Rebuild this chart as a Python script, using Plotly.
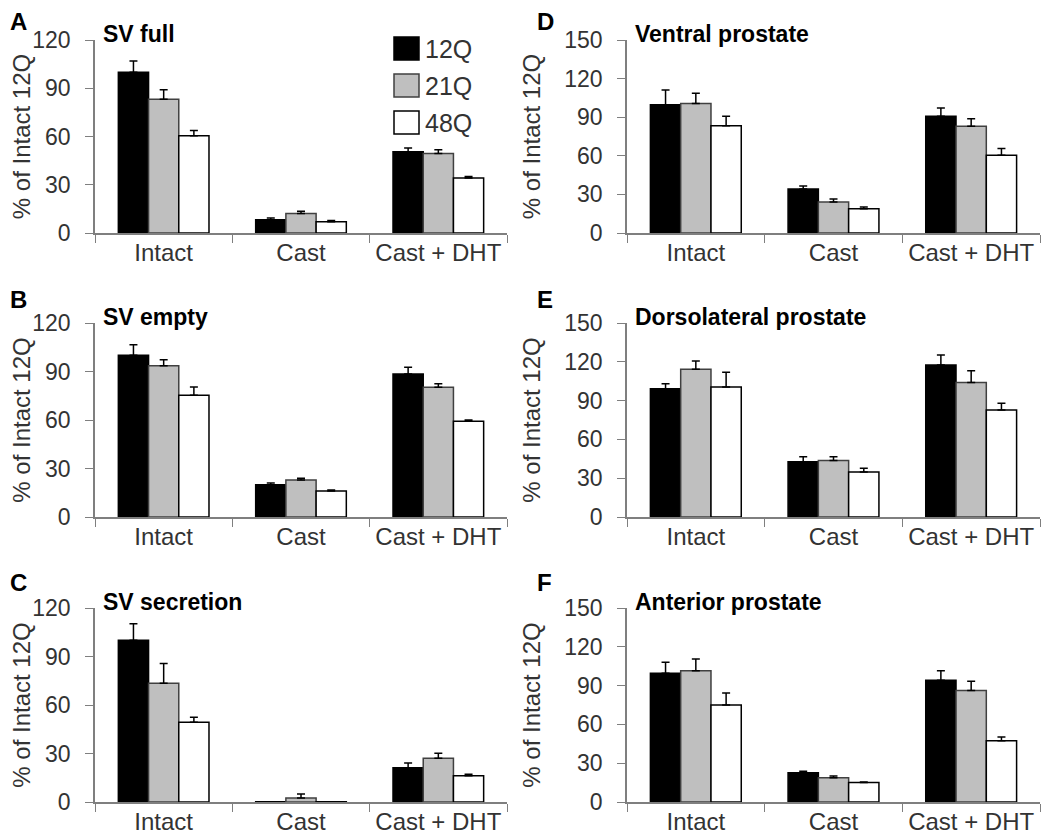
import plotly.graph_objects as go
from plotly.subplots import make_subplots

categories = ["Intact", "Cast", "Cast + DHT"]
groups = ["12Q", "21Q", "48Q"]

# mean values, one list per group (12Q, 21Q, 48Q)
sv_full = [[100, 8.3, 50.5], [83.2, 12.2, 49.5], [60.4, 7.0, 34.2]]
sv_full_err = [[7, 1.0, 2.3], [5.8, 1.3, 2.3], [3.4, 0.7, 1.0]]

sv_empty = [[100, 20, 88.5], [93.6, 22.9, 80.2], [75.3, 16.1, 59.2]]
sv_empty_err = [[6.6, 1.0, 4.1], [3.7, 1.0, 2.3], [5.1, 0.6, 0.8]]

sv_secretion = [[100, 0.2, 21.2], [73.4, 2.5, 27], [49.3, 0.1, 16.3]]
sv_secretion_err = [[10.3, 0, 2.9], [12.2, 2.5, 3.1], [3.1, 0, 0.8]]

ventral = [[99.6, 34.1, 90.8], [100.6, 24, 83], [83.3, 18.9, 60.5]]
ventral_err = [[11.6, 2.4, 6.4], [8, 2.4, 5.7], [7.5, 1.3, 5.2]]

dorsolateral = [[99.2, 42.8, 117.5], [114.2, 43.6, 103.9], [100.5, 34.8, 82.7]]
dorsolateral_err = [[3.9, 3.8, 7.8], [6.4, 3.0, 9.2], [11.4, 2.8, 5.2]]

anterior = [[99.5, 22.7, 94.1], [101.5, 18.8, 86.3], [75, 15, 47.4]]
anterior_err = [[8.5, 1.0, 7.4], [9.1, 1.3, 7], [9.3, 0.5, 2.9]]

fills = ["#000000", "#bfbfbf", "#ffffff"]
outlines = ["#000000", "#404040", "#000000"]

panels = [
    ("A", "SV full", sv_full, sv_full_err, 120, 1, 1),
    ("B", "SV empty", sv_empty, sv_empty_err, 120, 2, 1),
    ("C", "SV secretion", sv_secretion, sv_secretion_err, 120, 3, 1),
    ("D", "Ventral prostate", ventral, ventral_err, 150, 1, 2),
    ("E", "Dorsolateral prostate", dorsolateral, dorsolateral_err, 150, 2, 2),
    ("F", "Anterior prostate", anterior, anterior_err, 150, 3, 2),
]

# page body has an 8px margin, so the figure is shrunk and positions shifted
W, H = 1042, 827


def px(x):
    return (x - 8) / W


def py(y):
    return 1 - (y - 8) / H


fig = make_subplots(rows=3, cols=2)

col_x = {1: [px(95), px(507)], 2: [px(627), px(1040)]}
row_y = {1: [py(233), py(40)], 2: [py(517), py(323)], 3: [py(802), py(608)]}
# left edge / vertical centre of the panel letters (screen px)
letter_x = {1: 8, 2: 535}
letter_y = {1: 22, 2: 299, 3: 582}

font = "Liberation Sans, Arial, sans-serif"
axis_grey = "#7f7f7f"
text_grey = "#333333"

for letter, title, means, errs, ymax, r, c in panels:
    for i, g in enumerate(groups):
        fig.add_trace(go.Bar(
            x=categories, y=means[i], name=g, showlegend=False,
            marker=dict(color=fills[i], line=dict(color=outlines[i], width=1.5)),
            error_y=dict(type="data", array=errs[i], arrayminus=[0, 0, 0],
                         symmetric=False, color="black", thickness=1.5, width=4),
        ), row=r, col=c)
    fig.update_xaxes(domain=col_x[c], showline=True, linecolor=axis_grey, linewidth=1.5,
                     ticks="outside", tickson="boundaries", ticklen=8, tickcolor=axis_grey,
                     tickangle=0, ticklabelstandoff=-3,
                     tickfont=dict(size=24, color=text_grey, family=font),
                     showgrid=False, automargin=False, row=r, col=c)
    fig.update_yaxes(domain=row_y[r], range=[0, ymax], dtick=30, showline=True,
                     linecolor=axis_grey, linewidth=1.5, ticks="outside", ticklen=8,
                     tickcolor=axis_grey, showgrid=False, zeroline=False, automargin=False,
                     ticklabelstandoff=10,
                     tickfont=dict(size=23, color=text_grey, family=font),
                     title=dict(text="% of Intact 12Q", standoff=17,
                                font=dict(size=24, color=text_grey, family=font)),
                     row=r, col=c)
    sp = fig.get_subplot(r, c)
    xa = sp.xaxis.plotly_name.replace("axis", "")
    ya = sp.yaxis.plotly_name.replace("axis", "")
    fig.add_annotation(text="<b>" + title + "</b>", xref=xa + " domain", yref=ya + " domain",
                       x=0.015, y=1.03, xanchor="left", yanchor="middle", showarrow=False,
                       font=dict(size=23, color="black", family=font))
    fig.add_annotation(text="<b>" + letter + "</b>", xref="paper", yref="paper",
                       x=px(letter_x[c]), y=py(letter_y[r]), xanchor="left", yanchor="middle",
                       showarrow=False, font=dict(size=24, color="black", family=font))

# legend drawn as boxes in panel A
for i, g in enumerate(groups):
    top = 37 + 37 * i
    fig.add_shape(type="rect", xref="paper", yref="paper",
                  x0=px(394), x1=px(419), y0=py(top + 23), y1=py(top),
                  fillcolor=fills[i], line=dict(color=outlines[i], width=1.5))
    fig.add_annotation(text=g, xref="paper", yref="paper", x=px(423),
                       y=py(top + 12), xanchor="left", yanchor="middle",
                       showarrow=False, font=dict(size=25, color=text_grey, family=font))

fig.update_layout(
    width=W, height=H,
    margin=dict(l=0, r=0, t=0, b=0),
    barmode="group", bargap=0.34, bargroupgap=0,
    plot_bgcolor="white", paper_bgcolor="white",
    font=dict(family=font),
)

fig.write_html("out.html")
